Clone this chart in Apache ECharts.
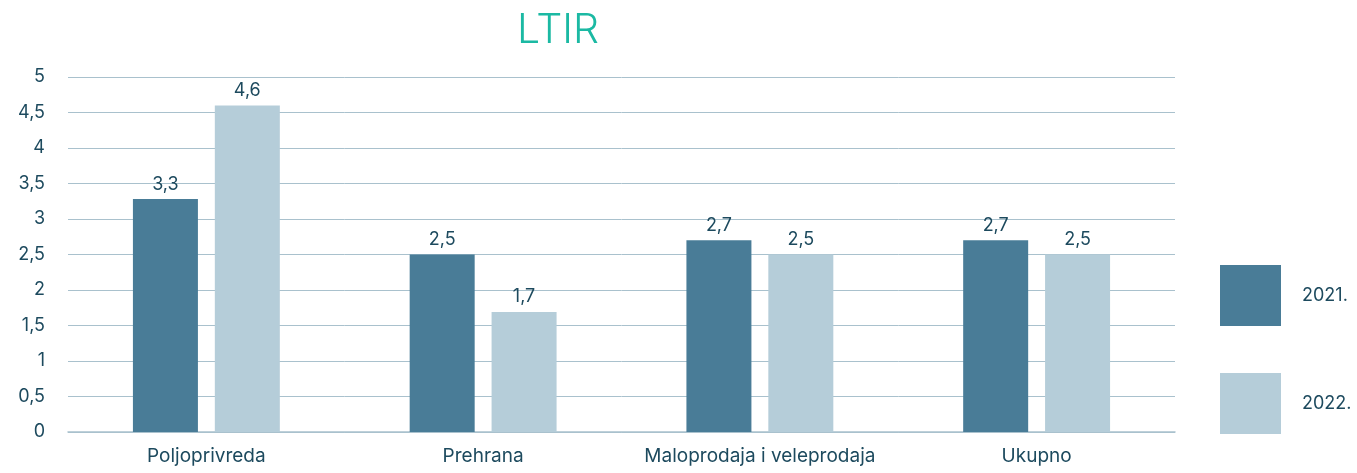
<!DOCTYPE html>
<html><head><meta charset="utf-8">
<script src="https://cdn.jsdelivr.net/npm/echarts@6/dist/echarts.min.js"></script>
<style>html,body{margin:0;padding:0;background:#fff}#c{width:1357px;height:473px}</style>
</head><body><div id="c"></div>
<script>
const categories = ['Poljoprivreda', 'Prehrana', 'Maloprodaja i veleprodaja', 'Ukupno'];
const seriesNames = ['2021.', '2022.'];
const values2021 = [3.28, 2.5, 2.7, 2.7];
const values2022 = [4.6, 1.69, 2.5, 2.5];
const titleText = 'LTIR';
const fmt = v => Number(v).toFixed(1).replace('.', ',');
const fmtTick = v => String(v).replace('.', ',');
const font = 'Inter, "Noto Sans", sans-serif';
const txt = '#1d4a5e';
const chart = echarts.init(document.getElementById('c'));
chart.setOption({
  animation: false,
  title: { text: titleText, left: 553, top: 5, textAlign: 'center',
    textStyle: { color: '#1bb9a3', fontSize: 41, fontWeight: 300, fontFamily: font } },
  legend: { orient: 'vertical', left: 1220, top: 265, padding: 0, itemWidth: 61, itemHeight: 61, itemGap: 47,
    icon: 'rect', textStyle: { color: txt, fontSize: 18, fontFamily: font, padding: [0,0,0,16] },
    data: seriesNames },
  grid: { left: 68, right: 182, top: 77, bottom: 41 },
  xAxis: { type: 'category', data: categories,
    axisLine: { lineStyle: { color: '#a9c1cd', width: 1.5 } }, axisTick: { show: false },
    axisLabel: { color: txt, fontSize: 19, fontFamily: font, margin: 15, interval: 0 } },
  yAxis: { type: 'value', min: 0, max: 5, interval: 0.5,
    axisLabel: { color: txt, fontSize: 18, fontFamily: font, margin: 23, formatter: v => fmtTick(v) },
    splitLine: { lineStyle: { color: '#a9c1cd', width: 1 } } },
  series: [
    { name: seriesNames[0], type: 'bar', data: values2021, barWidth: 65, barGap: '26%',
      itemStyle: { color: '#497c97' },
      label: { show: true, position: 'top', color: txt, fontSize: 18, fontFamily: font, distance: 6, formatter: p => fmt(p.value) } },
    { name: seriesNames[1], type: 'bar', data: values2022, barWidth: 65,
      itemStyle: { color: '#b5cdd9' },
      label: { show: true, position: 'top', color: txt, fontSize: 18, fontFamily: font, distance: 6, formatter: p => fmt(p.value) } }
  ]
});
</script></body></html>
